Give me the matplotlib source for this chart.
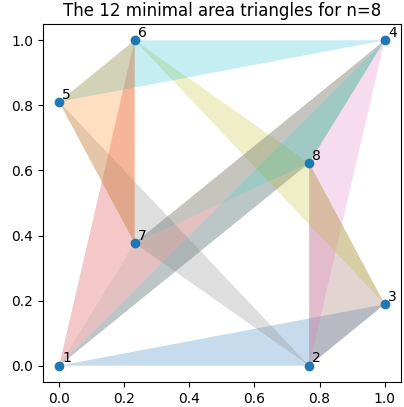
import matplotlib
matplotlib.use("Agg")
import matplotlib.pyplot as plt

# Heilbronn configuration for n=8 points in the unit square
point_ids = [1, 2, 3, 4, 5, 6, 7, 8]
xs = [0.0, 0.768, 1.0, 1.0, 0.0, 0.232, 0.232, 0.768]
ys = [0.0, 0.0, 0.189, 1.0, 0.811, 1.0, 0.377, 0.623]

# Triangles (1-based vertex ids) of minimal area
triangles = [
    (1, 2, 3), (1, 4, 7), (1, 4, 8), (1, 6, 7), (1, 7, 8), (2, 3, 8),
    (2, 4, 8), (2, 5, 7), (3, 6, 8), (4, 5, 6), (4, 7, 8), (5, 6, 7),
]

fig = plt.figure(figsize=(4.04, 4.07), dpi=100)
ax = fig.add_axes([0.106, 0.0614, 0.8866, 0.8796])

colors = plt.rcParams["axes.prop_cycle"].by_key()["color"]
for k, tri in enumerate(triangles):
    tx = [xs[i - 1] for i in tri]
    ty = [ys[i - 1] for i in tri]
    ax.fill(tx, ty, color=colors[k % len(colors)], alpha=0.25, linewidth=0)

ax.scatter(xs, ys, color="C0", zorder=3)
for pid, x, y in zip(point_ids, xs, ys):
    ax.text(x + 0.01, y + 0.01, str(pid), fontsize=10)

ax.set_xlim(-0.05, 1.05)
ax.set_ylim(-0.05, 1.05)
ax.set_title("The 12 minimal area triangles for n=8")

fig.savefig("out.png", dpi=100)
